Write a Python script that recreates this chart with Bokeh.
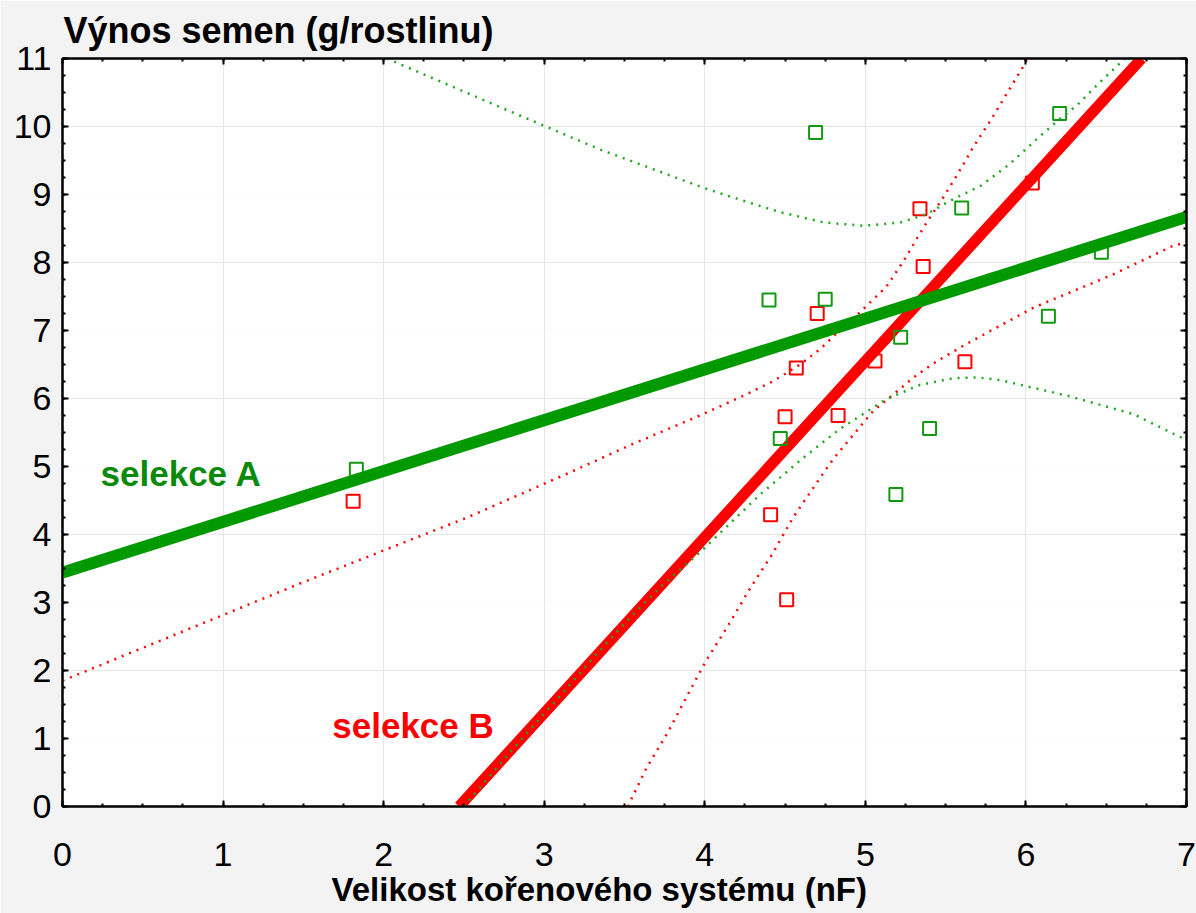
from bokeh.plotting import figure
from bokeh.models import Label, LinearAxis, SingleIntervalTicker, Grid, Title
from bokeh.embed import file_html
from bokeh.resources import INLINE

# ---- data ----
a_x = [1.83, 4.69, 4.40, 4.75, 5.22, 5.60, 6.21, 6.47, 6.14, 5.40, 5.19, 4.47]
a_y = [4.96, 9.91, 7.45, 7.46, 6.90, 8.80, 10.19, 8.15, 7.21, 5.56, 4.59, 5.41]

b_x = [1.81, 5.34, 5.36, 4.70, 4.57, 5.06, 5.62, 4.50, 4.83, 4.41, 4.51, 6.04]
b_y = [4.49, 8.79, 7.94, 7.25, 6.45, 6.55, 6.54, 5.73, 5.75, 4.29, 3.04, 9.17]

a_fit_x = [0.0, 7.0]
a_fit_y = [3.44, 8.67]
b_fit_x = [2.47, 6.72]
b_fit_y = [0.0, 11.0]

a_up_x = [2.02, 2.73, 3.35, 3.99, 4.25, 4.47, 4.74, 4.99, 5.22, 5.38, 5.53, 5.72, 5.90, 6.07, 6.20, 6.33, 6.46, 6.59, 6.62]
a_up_y = [11.0, 10.28, 9.66, 9.10, 8.90, 8.74, 8.59, 8.54, 8.59, 8.71, 8.91, 9.13, 9.45, 9.82, 10.09, 10.34, 10.65, 10.94, 11.0]
a_lo_x = [2.50, 2.81, 3.10, 3.31, 3.52, 3.72, 3.98, 4.35, 4.62, 4.84, 5.13, 5.34, 5.55, 5.70, 5.84, 6.26, 6.67, 6.92, 7.0]
a_lo_y = [0.0, 0.86, 1.63, 2.20, 2.74, 3.22, 3.76, 4.60, 5.14, 5.55, 5.99, 6.20, 6.30, 6.31, 6.27, 6.04, 5.77, 5.48, 5.39]

b_up_x = [0.0, 1.48, 2.52, 3.12, 3.56, 3.97, 4.24, 4.43, 4.60, 4.72, 4.84, 4.98, 5.13, 5.24, 5.32, 5.39, 5.47, 5.57, 5.67, 5.78, 5.88, 5.98, 6.01]
b_up_y = [1.85, 3.28, 4.25, 4.87, 5.34, 5.75, 6.04, 6.26, 6.51, 6.73, 7.00, 7.30, 7.64, 8.03, 8.35, 8.62, 8.90, 9.28, 9.69, 10.09, 10.48, 10.87, 11.0]
b_lo_x = [3.52, 3.64, 3.77, 3.89, 4.01, 4.15, 4.28, 4.42, 4.55, 4.70, 4.80, 4.93, 5.05, 5.18, 5.30, 5.42, 5.59, 5.76, 6.05, 6.53, 6.92, 7.0]
b_lo_y = [0.0, 0.58, 1.09, 1.63, 2.15, 2.68, 3.20, 3.71, 4.25, 4.77, 5.11, 5.48, 5.82, 6.07, 6.31, 6.51, 6.75, 6.97, 7.34, 7.81, 8.25, 8.29]

title_y = "Výnos semen (g/rostlinu)"
title_x = "Velikost kořenového systému (nF)"
label_a = "selekce A"
label_b = "selekce B"

GREEN = "#009900"
GREEN_M = "#119911"
GREEN_D = "#1fa71f"
GREEN_T = "#0a8a0a"
RED = "#ff0000"
FONT = "Liberation Sans"

p = figure(width=1196, height=913, x_range=(0, 7), y_range=(0, 11),
           output_backend="svg", toolbar_location=None,
           min_border_left=62, min_border_right=10, min_border_top=58, min_border_bottom=107,
           x_axis_location=None, y_axis_location=None)
p.border_fill_color = "#f3f3f3"
p.background_fill_color = "white"
p.outline_line_color = "black"
p.outline_line_width = 2

# y title as plot title (top-left)
p.title.text = title_y
p.title.align = "left"
p.title.text_font = FONT
p.title.text_font_style = "bold"
p.title.text_font_size = "36px"
p.title.text_color = "black"
p.title.standoff = 15
p.title.offset = 1


def make_axis(show_labels):
    ax = LinearAxis(ticker=SingleIntervalTicker(interval=1, num_minor_ticks=4))
    ax.axis_line_width = 2
    ax.axis_line_color = "black"
    ax.major_tick_in = 6
    ax.major_tick_out = 0
    ax.minor_tick_in = 3
    ax.minor_tick_out = 0
    ax.major_tick_line_width = 2
    ax.minor_tick_line_width = 2
    ax.major_label_text_font = FONT
    if show_labels:
        ax.major_label_text_font_size = "34px"
        ax.major_label_text_color = "black"
    else:
        ax.major_label_text_font_size = "1px"
        ax.major_label_text_color = None
        ax.major_label_standoff = 0
    return ax


left = make_axis(True)
left.major_label_standoff = 11
bottom = make_axis(True)
bottom.major_label_standoff = 36
right = make_axis(False)
top = make_axis(False)
p.add_layout(left, "left")
p.add_layout(bottom, "below")
p.add_layout(right, "right")
p.add_layout(top, "above")

xt = Title(text=title_x, align="left", offset=269, text_font=FONT, text_font_style="bold",
           text_font_size="33px", text_color="black", standoff=0)
p.add_layout(xt, "below")

gx = Grid(dimension=0, ticker=SingleIntervalTicker(interval=1), grid_line_color="#ebebeb",
          grid_line_dash="1 3", grid_line_width=1)
gy = Grid(dimension=1, ticker=SingleIntervalTicker(interval=1), grid_line_color="#ebebeb",
          grid_line_dash="1 3", grid_line_width=1)
p.add_layout(gx, "center")
p.add_layout(gy, "center")

# red series
p.scatter(b_x, b_y, marker="square", size=13, fill_color=None, line_color=RED, line_width=2)
p.line(b_fit_x, b_fit_y, line_color=RED, line_width=11)
p.line(b_up_x, b_up_y, line_color=RED, line_width=2.5, line_dash="2 6")
p.line(b_lo_x, b_lo_y, line_color=RED, line_width=2.5, line_dash="2 6")

# green series
p.scatter(a_x, a_y, marker="square", size=13, fill_color=None, line_color=GREEN_M, line_width=2)
p.line(a_up_x, a_up_y, line_color=GREEN_D, line_width=2.5, line_dash="2 6")
p.line(a_lo_x, a_lo_y, line_color=GREEN_D, line_width=2.5, line_dash="2 6")
p.line(a_fit_x, a_fit_y, line_color=GREEN, line_width=12)

p.add_layout(Label(x=0.237, y=4.90, text=label_a, text_font=FONT, text_font_style="bold",
                   text_font_size="35px", text_color=GREEN_T, text_baseline="alphabetic"))
p.add_layout(Label(x=1.68, y=1.19, text=label_b, text_font=FONT, text_font_style="bold",
                   text_font_size="35px", text_color=RED, text_baseline="alphabetic"))

open("out.html", "w").write(file_html(p, INLINE))
